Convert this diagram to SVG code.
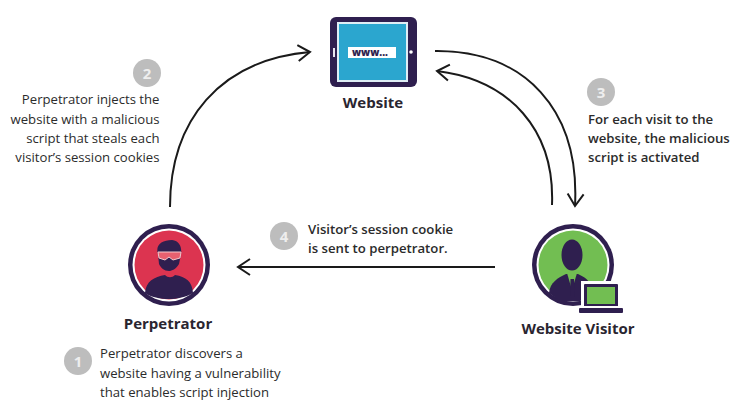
<svg xmlns="http://www.w3.org/2000/svg" width="744" height="405" viewBox="0 0 744 405">
<defs>
<marker id="ah" markerUnits="userSpaceOnUse" markerWidth="20" markerHeight="24" refX="14" refY="11" orient="auto"><path d="M2 3L14 11L2 19" fill="none" stroke="#1a1a1a" stroke-width="2"/></marker>
</defs>
<style>
text{font-family:"Open Sans","Noto Sans",sans-serif;fill:#2b2b2b}
.b{font-size:15px;font-weight:700;text-anchor:middle;fill:#2a2530}
.t{font-size:13.15px;font-weight:500}
.u{font-size:13.2px;font-weight:600}
.n{font-size:15px;font-weight:700;fill:#eee;text-anchor:middle}
.c{fill:#bdbdbd}
.l{fill:none;stroke:#1a1a1a;stroke-width:2}
.d{fill:#2f1f4f}
</style>
<rect width="744" height="405" fill="#fff"/>
<g id="connectors">
<path class="l" marker-end="url(#ah)" d="M170 207C170 120 220 60 310 52"/>
<path class="l" marker-end="url(#ah)" d="M435 51C525 50 580 110 575 206"/>
<path class="l" marker-end="url(#ah)" d="M552 205C555 130 510 80 437 71"/>
<path class="l" marker-end="url(#ah)" d="M495 267H238"/>
</g>
<g id="website">
<rect class="d" x="330" y="17" width="87" height="70" rx="6"/>
<rect x="337" y="22" width="71" height="60" fill="#dfeef5"/>
<rect x="339" y="24" width="67" height="56" fill="#2ba6cf"/>
<rect x="348" y="47" width="48" height="11" fill="#fff"/>
<text x="352" y="56" font-size="10" font-weight="800" style="fill:#2f1f4f">www...</text>
<rect x="333" y="48" width="2" height="9" fill="#e8e6ee"/>
<circle cx="411" cy="52" r="1.800" fill="#fff"/>
<text class="b" x="373" y="108">Website</text>
</g>
<g id="perpetrator">
<circle class="d" cx="169" cy="265" r="41"/>
<circle cx="169" cy="265" r="36.500" fill="#fff"/>
<circle cx="169" cy="265" r="34.500" fill="#dc3450"/>
<path class="d" d="M145 293C146 281 154 277 165 275C168 278 172 278 175 275C186 277 192 281 193 293C186 297 177 299 169 299C160 299 151 297 145 293Z"/>
<path class="d" d="M158 254C155 245 162 240 172 240C180 241 182 248 181 254L179 264C176 269 172 271 169 271C164 271 161 268 159 264Z"/>
<path d="M158 252H181L180 258L173 260L169 257L165 260L159 258Z" fill="#e8606f" stroke="#f3c8cc" stroke-width="1"/>
<text class="b" x="168" y="329">Perpetrator</text>
</g>
<g id="visitor">
<circle class="d" cx="573" cy="265" r="41"/>
<circle cx="573" cy="265" r="36.500" fill="#fff"/>
<circle cx="573" cy="265" r="34.500" fill="#72be52"/>
<path class="d" d="M549 293C550 282 558 278 566 274H578C586 278 592 281 594 296L580 301H560Z"/>
<path d="M567 273L572 290L577 273Z" fill="#72be52"/>
<path class="d" d="M570.500 279H574L575 297H570Z"/>
<ellipse class="d" cx="572" cy="255" rx="10.500" ry="15.500"/>
<rect x="581" y="281" width="38" height="27" fill="#fff"/>
<rect class="d" x="584" y="284" width="34" height="23" rx="1"/>
<rect x="587" y="287" width="28" height="17" fill="#72be52"/>
<rect x="577" y="306" width="48" height="8" fill="#fff"/>
<rect class="d" x="579" y="308" width="44" height="5" rx="1"/>
<text class="b" x="578" y="334">Website Visitor</text>
</g>
<g id="step-1">
<circle class="c" cx="78" cy="361" r="14"/><text class="n" x="78" y="367">1</text>
<text class="t" x="100" y="358">Perpetrator discovers a</text>
<text class="t" x="100" y="378">website having a vulnerability</text>
<text class="t" x="100" y="397">that enables script injection</text>
</g>
<g id="step-2">
<circle class="c" cx="147" cy="73" r="14"/><text class="n" x="147" y="79">2</text>
<g style="text-anchor:end">
<text class="t" x="159.500" y="104">Perpetrator injects the</text>
<text class="t" x="159.500" y="124">website with a malicious</text>
<text class="t" x="159.500" y="143">script that steals each</text>
<text class="t" x="159.500" y="162">visitor’s session cookies</text>
</g>
</g>
<g id="step-3">
<circle class="c" cx="601" cy="92" r="14"/><text class="n" x="601" y="98">3</text>
<text class="u" x="588" y="124">For each visit to the</text>
<text class="u" x="588" y="143">website, the malicious</text>
<text class="u" x="588" y="162">script is activated</text>
</g>
<g id="step-4">
<circle class="c" cx="284" cy="236" r="14"/><text class="n" x="284" y="242">4</text>
<text class="u" x="308" y="234">Visitor’s session cookie</text>
<text class="u" x="308" y="253">is sent to perpetrator.</text>
</g>
</svg>
